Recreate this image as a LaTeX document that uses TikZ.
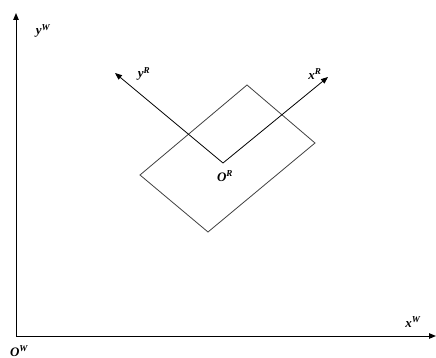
\documentclass[tikz,border=0pt]{standalone}
\usepackage{fontspec}
\setmainfont{Liberation Serif}
\usetikzlibrary{arrows.meta}
\begin{document}
\begin{tikzpicture}[x=1pt,y=-1pt,
  axis/.style={line width=1pt,-{Triangle[length=7pt,width=5.5pt]}},
  raxis/.style={line width=0.8pt,-{Triangle[length=7pt,width=5.5pt]}},
  lbl/.style={font=\bfseries\itshape\fontsize{13}{14}\selectfont, inner sep=1pt},
  rect/.style={draw=black!75, line width=0.8pt}]
\useasboundingbox (0,0) rectangle (436,358);
\coordinate (OW) at (16,336);
\coordinate (YWtip) at (16,13);
\coordinate (XWtip) at (436,336);
\draw[axis] (OW) -- (YWtip);
\draw[axis] (OW) -- (XWtip);
\node[lbl] (yW) at (43,31) {y\textsuperscript{W}};
\node[lbl] (xW) at (413,322) {x\textsuperscript{W}};
\node[lbl] (oW) at (19,351) {O\textsuperscript{W}};
\coordinate (A) at (247,85);
\coordinate (B) at (315,143);
\coordinate (C) at (208,232);
\coordinate (D) at (140,175);
\draw[rect] (A) -- (B) -- (C) -- (D) -- cycle;
\coordinate (OR) at (223,163);
\coordinate (XRtip) at (328,77);
\coordinate (YRtip) at (115,73);
\draw[raxis] (OR) -- (XRtip);
\draw[raxis] (OR) -- (YRtip);
\node[lbl] (yR) at (144,74) {y\textsuperscript{R}};
\node[lbl] (xR) at (315,74) {x\textsuperscript{R}};
\node[lbl] (oR) at (225,176) {O\textsuperscript{R}};
\end{tikzpicture}
\end{document}
